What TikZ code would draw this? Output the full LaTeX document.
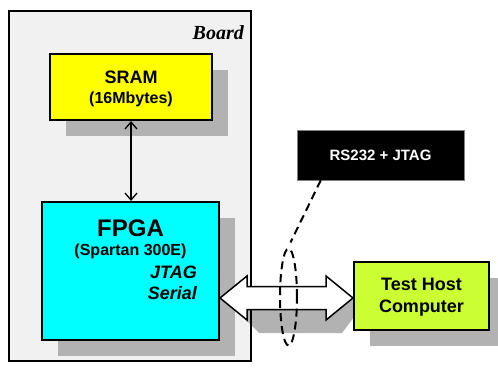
\documentclass[tikz,border=0pt]{standalone}
\usepackage{fontspec}
\setmainfont{Liberation Sans}
\newfontfamily\boardserif{Liberation Serif}
\usetikzlibrary{arrows.meta,shadows,calc,shapes.geometric}

\definecolor{boardfill}{RGB}{241,241,241}
\definecolor{shadowgray}{RGB}{178,178,178}
\definecolor{hostlime}{RGB}{204,255,51}
\definecolor{sramyellow}{RGB}{255,255,0}
\definecolor{fpgacyan}{RGB}{0,255,255}

\pgfdeclarelayer{bg}
\pgfdeclarelayer{shade}
\pgfsetlayers{bg,shade,main}

\begin{document}
\begin{tikzpicture}[x=1pt,y=-1pt,
  box/.style={draw=black, line width=2pt, inner sep=0pt,
    drop shadow={shadow xshift=16pt, shadow yshift=-16pt, fill=shadowgray, opacity=1}},
  big/.style={font=\bfseries\fontsize{24}{26}\selectfont, inner sep=0pt},
  mid/.style={font=\bfseries\fontsize{18}{20}\selectfont, inner sep=0pt},
  midit/.style={font=\bfseries\itshape\fontsize{18}{20}\selectfont, inner sep=0pt},
  small/.style={font=\bfseries\fontsize{16}{18}\selectfont, inner sep=0pt},
  bus/.style={draw=black, line width=1.5pt, fill=white, line join=miter},
  dashline/.style={line width=2pt, dash pattern=on 8pt off 5pt},
  link/.style={line width=1.3pt, {Straight Barb[length=7pt,width=12pt]}-{Straight Barb[length=7pt,width=12pt]}}
]
\useasboundingbox (0,0) rectangle (498,369);

% board area
\begin{pgfonlayer}{bg}
\fill[white] (0,0) rectangle (498,369);
\node[fill=boardfill, minimum width=242pt, minimum height=350pt,
      inner sep=0pt, anchor=north west] (board) at (9,11) {};
\end{pgfonlayer}
\draw[line width=2pt] (board.north west) rectangle (board.south east);
\node[font=\boardserif\bfseries\itshape\fontsize{20}{22}\selectfont, inner sep=0pt, anchor=base east]
  (boardlabel) at (244,40) {Board};

% memory and FPGA
\node[box, fill=sramyellow, minimum width=162pt, minimum height=66pt] (sram) at (131,87) {};
\node[mid, anchor=base] (sramt) at (131,83) {SRAM};
\node[small, anchor=base] (sramsz) at (131,103) {(16Mbytes)};

\node[box, fill=fpgacyan, minimum width=177pt, minimum height=138pt] (fpga) at (130.5,271) {};
\node[big, anchor=base] (fpgat) at (130.5,236) {FPGA};
\node[small, anchor=base] (fpgadev) at (130.5,255) {(Spartan 300E)};
\node[midit, anchor=base east] (jtag) at (197,278) {JTAG};
\node[midit, anchor=base east] (serial) at (197,299) {Serial};

\draw[link] (sram.south) -- (sram.south |- fpga.north);

% host computer
\node[box, fill=hostlime, minimum width=135pt, minimum height=68pt] (host) at (421.5,296) {};
\node[mid, anchor=base] (hostt) at (421.5,290) {Test Host};
\node[mid, anchor=base] (hostc) at (421.5,312) {Computer};

% serial/JTAG bus between board and host, with its shadow
\coordinate (aL) at ([yshift=-27pt]fpga.east);
\coordinate (aR) at (aL -| host.west);
\begin{pgfonlayer}{shade}
  \fill[shadowgray] ($(aL)+(19,2)$) -- ($(aL)+(19,15)$) -- ($(aL)+(39,35)$) -- ($(aR)+(-11,35)$)
    -- ($(aR)+(4,15)$) -- ($(aR)+(4,2)$) -- cycle;
\end{pgfonlayer}
\draw[bus] (aL) -- ($(aL)+(27,-22)$) -- ($(aL)+(27,-11.5)$) -- ($(aR)+(-27,-11.5)$)
    -- ($(aR)+(-27,-22)$) -- (aR) -- ($(aR)+(-27,22)$) -- ($(aR)+(-27,11.5)$)
    -- ($(aL)+(27,11.5)$) -- ($(aL)+(27,22)$) -- cycle;

% cable label
\node[draw=gray, fill=black, minimum width=167pt, minimum height=50pt, inner sep=0pt] (rs) at (380.5,155) {};
\node[font=\bfseries\fontsize{15}{17}\selectfont, inner sep=0pt, text=white, anchor=base] (rst) at (380.5,160) {RS232 + JTAG};

\node[ellipse, draw, dashline, minimum width=17pt, minimum height=97pt, inner sep=0pt] (ell) at (288.5,297) {};
\draw[dashline] ([xshift=24pt]rs.south west) -- ([shift={(2pt,5pt)}]ell.north);
\end{tikzpicture}
\end{document}
